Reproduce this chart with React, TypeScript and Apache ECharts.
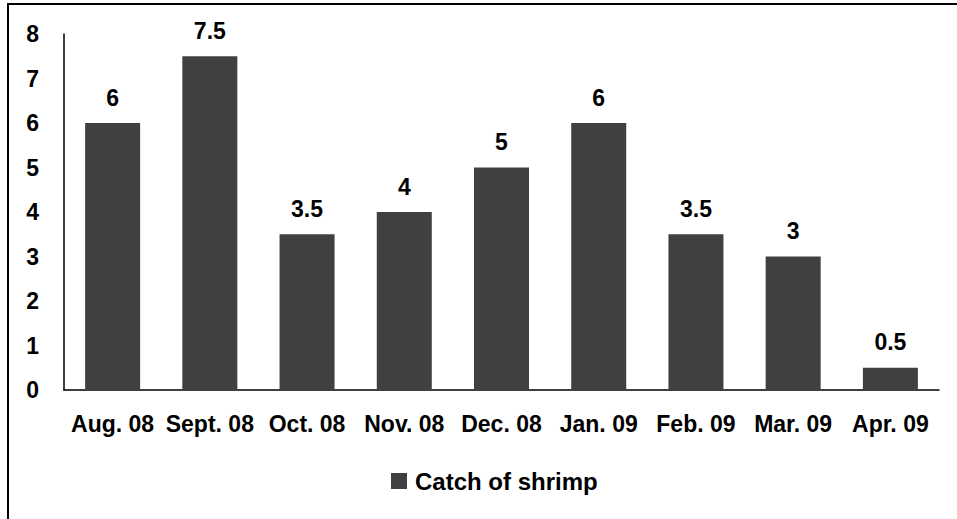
import React, { useEffect, useRef } from "react";
import * as echarts from "echarts";

// Monthly catch of shrimp, Aug. 2008 – Apr. 2009
const months = [
  "Aug. 08",
  "Sept. 08",
  "Oct. 08",
  "Nov. 08",
  "Dec. 08",
  "Jan. 09",
  "Feb. 09",
  "Mar. 09",
  "Apr. 09",
];
const catchValues = [6, 7.5, 3.5, 4, 5, 6, 3.5, 3, 0.5];
const seriesName = "Catch of shrimp";
const yMin = 0;
const yMax = 8;
const yStep = 1;

const FONT = "'Liberation Sans', Arial, sans-serif";
const BAR = "#404040";
const LABEL_SIZE = 23;

export default function App() {
  const ref = useRef<HTMLDivElement>(null);

  useEffect(() => {
    if (!ref.current) return;
    const chart = echarts.init(ref.current, null, { renderer: "svg" });
    chart.setOption({
      animation: false,
      backgroundColor: "#ffffff",
      textStyle: { fontFamily: FONT },
      grid: { left: 64, right: 18, top: 34, bottom: 129, containLabel: false },
      graphic: [
        {
          type: "rect",
          shape: { x: 8, y: 4, width: 1200, height: 800 },
          style: { fill: "none", stroke: "#000000", lineWidth: 2 },
          silent: true,
        },
      ],
      legend: {
        data: [seriesName],
        left: 391,
        top: 469,
        padding: 0,
        itemWidth: 16,
        itemHeight: 16,
        itemGap: 10,
        icon: "rect",
        textStyle: {
          fontFamily: FONT,
          fontWeight: "bold",
          fontSize: 24,
          color: "#000000",
          padding: [0, 0, 0, 3],
        },
      },
      xAxis: {
        type: "category",
        data: months,
        axisLine: { show: true, lineStyle: { color: "#000000", width: 1.5 } },
        axisTick: { show: false },
        axisLabel: {
          fontFamily: FONT,
          fontWeight: "bold",
          fontSize: LABEL_SIZE,
          color: "#000000",
          margin: 22,
          interval: 0,
        },
        splitLine: { show: false },
      },
      yAxis: {
        type: "value",
        min: yMin,
        max: yMax,
        interval: yStep,
        axisLine: { show: true, lineStyle: { color: "#000000", width: 1.5 } },
        axisTick: { show: false },
        axisLabel: {
          fontFamily: FONT,
          fontWeight: "bold",
          fontSize: LABEL_SIZE,
          color: "#000000",
          margin: 25,
        },
        splitLine: { show: false },
      },
      series: [
        {
          name: seriesName,
          type: "bar",
          data: catchValues,
          barWidth: 55,
          itemStyle: { color: BAR },
          label: {
            show: true,
            position: "top",
            distance: 14,
            fontFamily: FONT,
            fontWeight: "bold",
            fontSize: LABEL_SIZE,
            color: "#000000",
          },
        },
      ],
    });
    return () => chart.dispose();
  }, []);

  return (
    <div
      ref={ref}
      style={{ position: "fixed", left: 0, top: 0, width: 957, height: 519 }}
    />
  );
}
